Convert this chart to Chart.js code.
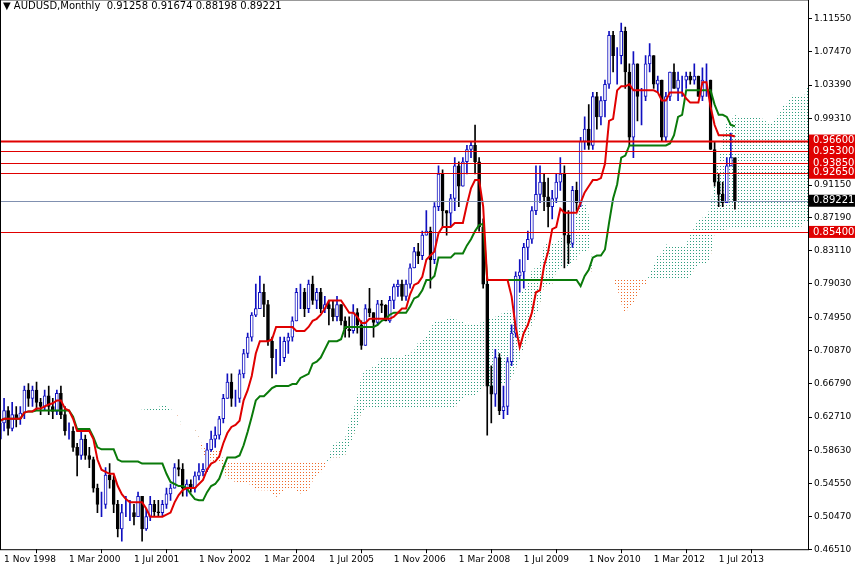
<!DOCTYPE html>
<html>
<head>
<meta charset="utf-8">
<script src="https://cdn.jsdelivr.net/npm/chart.js@4/dist/chart.umd.min.js"></script>
<style>
  body { margin: 0; background: #fff; overflow: hidden; }
  #wrap { width: 855px; height: 574px; margin-top: -8px; }
</style>
</head>
<body>
<div id="wrap"><canvas id="chart"></canvas></div>
<script>
// Monthly AUDUSD, Oct 1998 .. Nov 2013
const firstMonth = { year: 1998, month: 9 }; // October 1998
const firstOpen = 0.600;
const closes = [
    0.620, 0.635, 0.613,
    0.630, 0.625, 0.632, 0.660, 0.650, 0.660, 0.645, 0.640, 0.653, 0.640, 0.634, 0.656,
    0.630, 0.610, 0.610, 0.590, 0.580, 0.600, 0.580, 0.575, 0.540, 0.520, 0.520, 0.556,
    0.550, 0.520, 0.490, 0.510, 0.510, 0.510, 0.505, 0.530, 0.490, 0.505, 0.520, 0.511,
    0.510, 0.520, 0.533, 0.540, 0.565, 0.563, 0.540, 0.545, 0.540, 0.555, 0.560, 0.563,
    0.587, 0.600, 0.605, 0.625, 0.650, 0.670, 0.650, 0.650, 0.680, 0.705, 0.725, 0.752,
    0.760, 0.780, 0.765, 0.720, 0.700, 0.700, 0.700, 0.720, 0.725, 0.745, 0.780, 0.780,
    0.760, 0.790, 0.770, 0.780, 0.760, 0.765, 0.760, 0.750, 0.765, 0.745, 0.735, 0.733,
    0.755, 0.740, 0.715, 0.760, 0.755, 0.743, 0.766, 0.764, 0.745, 0.770, 0.787, 0.790,
    0.775, 0.790, 0.810, 0.830, 0.825, 0.850, 0.855, 0.820, 0.885, 0.925, 0.880, 0.877,
    0.895, 0.935, 0.910, 0.940, 0.955, 0.960, 0.940, 0.860, 0.790, 0.665, 0.655, 0.700,
    0.635, 0.640, 0.695, 0.730, 0.800, 0.805, 0.835, 0.845, 0.880, 0.900, 0.915, 0.897,
    0.885, 0.895, 0.915, 0.925, 0.850, 0.840, 0.905, 0.890, 0.965, 0.980, 0.960, 1.020,
    0.995, 1.015, 1.035, 1.095, 1.070, 1.070, 1.100, 1.050, 0.970, 1.060, 1.020, 1.020,
    1.060, 1.070, 1.035, 1.040, 0.970, 1.020, 1.050, 1.030, 1.040, 1.040, 1.045, 1.040,
    1.045, 1.020, 1.040, 1.040, 0.955, 0.915, 0.900, 0.890, 0.935, 0.945, 0.892
];
const highs = [
    0.645, 0.650, 0.640,
    0.645, 0.640, 0.640, 0.665, 0.668, 0.665, 0.670, 0.650, 0.660, 0.665, 0.650, 0.660,
    0.665, 0.640, 0.620, 0.615, 0.595, 0.610, 0.605, 0.590, 0.578, 0.545, 0.535, 0.565,
    0.570, 0.555, 0.525, 0.520, 0.530, 0.525, 0.520, 0.535, 0.530, 0.515, 0.530, 0.525,
    0.525, 0.525, 0.540, 0.545, 0.570, 0.575, 0.570, 0.550, 0.550, 0.560, 0.570, 0.570,
    0.595, 0.610, 0.615, 0.628, 0.655, 0.680, 0.680, 0.660, 0.685, 0.710, 0.730, 0.755,
    0.790, 0.800, 0.790, 0.770, 0.725, 0.710, 0.725, 0.725, 0.730, 0.750, 0.785, 0.790,
    0.785, 0.795, 0.800, 0.785, 0.785, 0.775, 0.770, 0.770, 0.775, 0.765, 0.750, 0.750,
    0.765, 0.760, 0.745, 0.765, 0.785, 0.755, 0.770, 0.770, 0.765, 0.775, 0.790, 0.795,
    0.795, 0.795, 0.815, 0.835, 0.840, 0.855, 0.880, 0.860, 0.890, 0.935, 0.930, 0.880,
    0.900, 0.945, 0.940, 0.945, 0.960, 0.965, 0.985, 0.945, 0.870, 0.800, 0.690, 0.710,
    0.705, 0.665, 0.700, 0.740, 0.805, 0.820, 0.840, 0.855, 0.885, 0.935, 0.935, 0.925,
    0.920, 0.905, 0.925, 0.945, 0.935, 0.880, 0.910, 0.915, 0.970, 0.995, 1.010, 1.025,
    1.025, 1.020, 1.040, 1.100, 1.100, 1.080, 1.110, 1.105, 1.060, 1.075, 1.060, 1.030,
    1.070, 1.085, 1.070, 1.045, 1.040, 1.025, 1.050, 1.060, 1.050, 1.045, 1.050, 1.050,
    1.060, 1.045, 1.055, 1.060, 1.040, 0.965, 0.925, 0.915, 0.945, 0.975, 0.917
];
const lows = [
    0.600, 0.610, 0.605,
    0.610, 0.615, 0.618, 0.625, 0.640, 0.640, 0.635, 0.630, 0.635, 0.630, 0.625, 0.630,
    0.625, 0.605, 0.600, 0.585, 0.555, 0.575, 0.575, 0.565, 0.535, 0.510, 0.505, 0.515,
    0.540, 0.510, 0.480, 0.475, 0.505, 0.500, 0.495, 0.505, 0.475, 0.488, 0.500, 0.505,
    0.505, 0.505, 0.515, 0.525, 0.540, 0.555, 0.530, 0.530, 0.535, 0.535, 0.550, 0.555,
    0.560, 0.585, 0.590, 0.600, 0.620, 0.650, 0.640, 0.640, 0.645, 0.675, 0.700, 0.720,
    0.750, 0.760, 0.750, 0.715, 0.675, 0.680, 0.690, 0.695, 0.705, 0.720, 0.745, 0.760,
    0.750, 0.755, 0.765, 0.760, 0.755, 0.755, 0.740, 0.745, 0.745, 0.740, 0.725, 0.725,
    0.730, 0.730, 0.710, 0.715, 0.750, 0.725, 0.740, 0.755, 0.745, 0.743, 0.760, 0.775,
    0.770, 0.770, 0.785, 0.810, 0.815, 0.820, 0.850, 0.785, 0.815, 0.880, 0.860, 0.850,
    0.860, 0.880, 0.885, 0.910, 0.925, 0.945, 0.925, 0.855, 0.785, 0.605, 0.620, 0.640,
    0.630, 0.625, 0.630, 0.690, 0.725, 0.780, 0.785, 0.820, 0.840, 0.875, 0.890, 0.880,
    0.860, 0.870, 0.890, 0.905, 0.810, 0.815, 0.835, 0.880, 0.885, 0.955, 0.955, 0.955,
    0.980, 0.985, 0.995, 1.030, 1.050, 1.035, 1.060, 1.030, 0.960, 0.945, 0.990, 0.985,
    1.015, 1.050, 1.030, 1.025, 0.965, 0.965, 1.015, 1.030, 1.015, 1.020, 1.030, 1.035,
    1.035, 1.020, 1.015, 1.020, 0.955, 0.910, 0.885, 0.885, 0.890, 0.935, 0.882
];
const priceTicks = [1.11550, 1.07470, 1.03390, 0.99310, 0.91150, 0.87190, 0.83110, 0.79030,
    0.74950, 0.70870, 0.66790, 0.62710, 0.58630, 0.54550, 0.50470, 0.46510];
const redLevels = [0.96600, 0.95300, 0.93850, 0.92650, 0.85400];
const lastPrice = 0.89221;
const headerText = 'AUDUSD,Monthly  0.91258 0.91674 0.88198 0.89221';

const totalMonths = 200; // visible bars incl. the cloud projected ahead
const monthNames = ['Jan','Feb','Mar','Apr','May','Jun','Jul','Aug','Sep','Oct','Nov','Dec'];

const labels = [];
for (let i = 0; i < totalMonths; i++) {
    const m = firstMonth.month + i;
    labels.push('1 ' + monthNames[m % 12] + ' ' + (firstMonth.year + Math.floor(m / 12)));
}

// Ichimoku helpers
function midpoint(end, period) {
    const start = Math.max(0, end - period + 1);
    let hi = -Infinity, lo = Infinity;
    for (let i = start; i <= end; i++) { hi = Math.max(hi, highs[i]); lo = Math.min(lo, lows[i]); }
    return (hi + lo) / 2;
}
const n = closes.length;
const tenkan = [], kijun = [], spanA = new Array(totalMonths).fill(null), spanB = new Array(totalMonths).fill(null);
for (let i = 0; i < n; i++) {
    tenkan.push(midpoint(i, 9));
    kijun.push(midpoint(i, 26));
    if (i + 26 < totalMonths) {
        spanA[i + 26] = (tenkan[i] + kijun[i]) / 2;
        spanB[i + 26] = midpoint(i, 52);
    }
}

const opens = closes.map((c, i) => i === 0 ? firstOpen : closes[i - 1]);
const bodies = closes.map((c, i) => [opens[i], c]);
const wicks = closes.map((c, i) => [lows[i], highs[i]]);
const upColor = '#1010c0', downColor = '#000000';
const isUp = closes.map((c, i) => c >= opens[i]);

function dotPattern(color) {
    const p = document.createElement('canvas');
    p.width = 3; p.height = 3;
    const g = p.getContext('2d');
    g.fillStyle = color;
    g.fillRect(0, 0, 1, 1);
    return g.createPattern(p, 'repeat');
}
const ctx = document.getElementById('chart').getContext('2d');
const bullCloud = dotPattern('#2e9e7e');
const bearCloud = dotPattern('#ee6a2a');

const overlayPlugin = {
    id: 'overlay',
    afterDatasetsDraw(chart) {
        const { ctx, chartArea: a, scales: { y } } = chart;
        ctx.save();
        // current price line
        ctx.strokeStyle = '#8090b0';
        ctx.lineWidth = 1;
        let py = Math.round(y.getPixelForValue(lastPrice)) + 0.5;
        ctx.beginPath(); ctx.moveTo(a.left, py); ctx.lineTo(a.right, py); ctx.stroke();
        // support / resistance levels
        ctx.strokeStyle = '#e00000';
        redLevels.forEach((v, i) => {
            ctx.lineWidth = i === 0 ? 2 : 1;
            const yy = Math.round(y.getPixelForValue(v)) + 0.5;
            ctx.beginPath(); ctx.moveTo(a.left, yy); ctx.lineTo(a.right, yy); ctx.stroke();
        });
        // right-side price boxes
        ctx.font = '10px "DejaVu Sans"';
        ctx.textBaseline = 'middle';
        const boxes = redLevels.map(v => ({ v, bg: '#e00000' })).concat([{ v: lastPrice, bg: '#000000' }]);
        boxes.forEach(b => {
            const yy = y.getPixelForValue(b.v);
            ctx.fillStyle = b.bg;
            ctx.fillRect(a.right + 1, yy - 6, 46, 12);
            ctx.fillStyle = '#ffffff';
            ctx.fillText(b.v.toFixed(5), a.right + 5, yy);
        });
        // header
        ctx.fillStyle = '#000';
        ctx.font = '10px "DejaVu Sans"';
        ctx.fillText('\u25BC ' + headerText, a.left + 3, a.top + 7);
        // frame
        ctx.strokeStyle = '#000';
        ctx.lineWidth = 1;
        ctx.strokeRect(a.left + 0.5, a.top + 0.5, a.right - a.left, a.bottom - a.top);
        ctx.restore();
    }
};

new Chart(ctx, {
    data: {
        labels: labels,
        datasets: [
            { type: 'line', data: spanA, borderWidth: 0, pointRadius: 0, tension: 0,
              fill: { target: 1, above: bullCloud, below: bearCloud }, order: 5 },
            { type: 'line', data: spanB, borderWidth: 0, pointRadius: 0, tension: 0, fill: false, order: 5 },
            { type: 'bar', data: wicks, backgroundColor: isUp.map(u => u ? upColor : downColor),
              barThickness: 1, grouped: false, order: 3 },
            { type: 'bar', data: bodies, backgroundColor: isUp.map(u => u ? '#ffffff' : downColor),
              borderColor: isUp.map(u => u ? upColor : downColor), borderWidth: 1, borderSkipped: false,
              barThickness: 3, grouped: false, order: 2 },
            { type: 'line', data: kijun, borderColor: '#0a7a0a', borderWidth: 2, pointRadius: 0, tension: 0, order: 1 },
            { type: 'line', data: tenkan, borderColor: '#e00000', borderWidth: 2, pointRadius: 0, tension: 0, order: 0 }
        ]
    },
    options: {
        responsive: true,
        maintainAspectRatio: false,
        animation: false,
        plugins: { legend: { display: false }, tooltip: { enabled: false } },
        scales: {
            x: {
                type: 'category',
                offset: false,
                grid: { display: true, drawOnChartArea: false, tickLength: 4, color: '#000' },
                border: { display: false },
                ticks: {
                    autoSkip: false, maxRotation: 0, minRotation: 0, align: 'start',
                    color: '#000', font: { family: 'DejaVu Sans', size: 9 }, padding: 1,
                    callback: (v, i) => ((i - 1) % 16 === 0 && i >= 1 && i < 180) ? labels[i] : null
                }
            },
            y: {
                position: 'right',
                min: 0.4651, max: 1.139,
                grid: { display: true, drawOnChartArea: false, tickLength: 4, color: '#000' },
                border: { display: false },
                afterBuildTicks: axis => { axis.ticks = priceTicks.map(v => ({ value: v })); },
                afterFit: axis => { axis.width = 47; },
                ticks: {
                    color: '#000', font: { family: 'DejaVu Sans', size: 9 }, padding: 2,
                    callback: v => v.toFixed(5)
                }
            }
        }
    },
    plugins: [overlayPlugin]
});
</script>
</body>
</html>
